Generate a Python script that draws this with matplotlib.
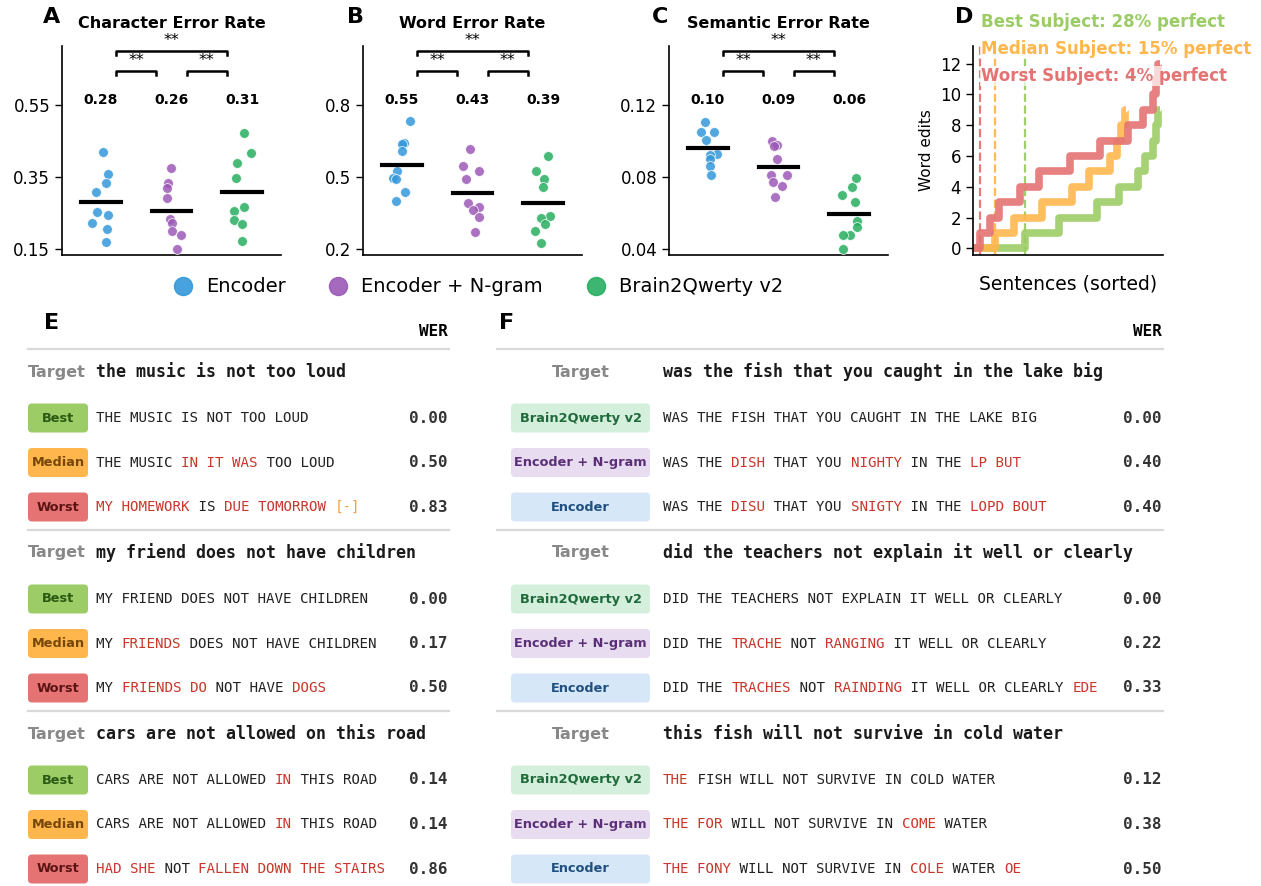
import re
import numpy as np
import matplotlib
matplotlib.use("Agg")
import matplotlib.pyplot as plt
from matplotlib.lines import Line2D
from matplotlib.patches import FancyBboxPatch

# ---- panel A-C data (per-subject error rates) ----
methods = ["Encoder", "Encoder + N-gram", "Brain2Qwerty v2"]
method_colors = ["#3498db", "#9b59b6", "#27ae60"]

cer_enc = [0.42, 0.357, 0.332, 0.309, 0.253, 0.244, 0.223, 0.205, 0.17]
cer_ngram = [0.374, 0.334, 0.319, 0.292, 0.233, 0.221, 0.20, 0.188, 0.149]
cer_b2q = [0.471, 0.416, 0.388, 0.348, 0.266, 0.256, 0.231, 0.219, 0.173]

wer_enc = [0.733, 0.640, 0.636, 0.610, 0.525, 0.495, 0.49, 0.435, 0.40]
wer_ngram = [0.615, 0.546, 0.524, 0.49, 0.393, 0.374, 0.363, 0.333, 0.27]
wer_b2q = [0.589, 0.526, 0.492, 0.458, 0.335, 0.330, 0.304, 0.275, 0.224]

ser_enc = [0.1106, 0.1052, 0.1048, 0.1006, 0.093, 0.092, 0.090, 0.0863, 0.0811]
ser_ngram = [0.1002, 0.0978, 0.0972, 0.0902, 0.0811, 0.0809, 0.0774, 0.075, 0.069]
ser_b2q = [0.0793, 0.0744, 0.0703, 0.0661, 0.0556, 0.0524, 0.0478, 0.0476, 0.0402]

metric_titles = ["Character Error Rate", "Word Error Rate", "Semantic Error Rate"]
metric_ticks = [[0.15, 0.35, 0.55], [0.2, 0.5, 0.8], [0.04, 0.08, 0.12]]
metric_ylims = [(0.133, 0.714), (0.174, 1.046), (0.0367, 0.1528)]

# ---- panel D data: number of sentences per word-edit level ----
subj_names = ["Best", "Median", "Worst"]
subj_colors = ["#9ccc65", "#ffb74d", "#e57373"]
best_counts = [28, 18, 20, 12, 10, 4, 4, 2, 1, 1]
median_counts = [12, 10, 15, 16, 9, 11, 4, 2, 2, 1]
worst_counts = [4, 5, 5, 11, 10, 17, 16, 15, 8, 5, 2, 1, 1]

# ---- panel E / F data ({..} = wrong word, <..> = missing) ----
e_targets = ["the music is not too loud",
             "my friend does not have children",
             "cars are not allowed on this road"]
e_hyps = [["THE MUSIC IS NOT TOO LOUD",
           "THE MUSIC {IN IT WAS} TOO LOUD",
           "{MY HOMEWORK} IS {DUE TOMORROW} <[-]>"],
          ["MY FRIEND DOES NOT HAVE CHILDREN",
           "MY {FRIENDS} DOES NOT HAVE CHILDREN",
           "MY {FRIENDS DO} NOT HAVE {DOGS}"],
          ["CARS ARE NOT ALLOWED {IN} THIS ROAD",
           "CARS ARE NOT ALLOWED {IN} THIS ROAD",
           "{HAD SHE} NOT {FALLEN DOWN THE STAIRS}"]]
e_wers = [[0.00, 0.50, 0.83], [0.00, 0.17, 0.50], [0.14, 0.14, 0.86]]

f_labels = ["Brain2Qwerty v2", "Encoder + N-gram", "Encoder"]
f_targets = ["was the fish that you caught in the lake big",
             "did the teachers not explain it well or clearly",
             "this fish will not survive in cold water"]
f_hyps = [["WAS THE FISH THAT YOU CAUGHT IN THE LAKE BIG",
           "WAS THE {DISH} THAT YOU {NIGHTY} IN THE {LP BUT}",
           "WAS THE {DISU} THAT YOU {SNIGTY} IN THE {LOPD BOUT}"],
          ["DID THE TEACHERS NOT EXPLAIN IT WELL OR CLEARLY",
           "DID THE {TRACHE} NOT {RANGING} IT WELL OR CLEARLY",
           "DID THE {TRACHES} NOT {RAINDING} IT WELL OR CLEARLY {EDE}"],
          ["{THE} FISH WILL NOT SURVIVE IN COLD WATER",
           "{THE FOR} WILL NOT SURVIVE IN {COME} WATER",
           "{THE FONY} WILL NOT SURVIVE IN {COLE} WATER {OE}"]]
f_wers = [[0.00, 0.40, 0.40], [0.00, 0.22, 0.33], [0.12, 0.38, 0.50]]

W, H = 1261, 886
fig = plt.figure(figsize=(W / 100, H / 100), dpi=100)
plt.rcParams["font.family"] = "DejaVu Sans"
MONO = "DejaVu Sans Mono"


def fx(px):
    return px / W


def fy(py):
    return 1 - py / H


# ---------------- A, B, C ----------------
all_data = [[cer_enc, cer_ngram, cer_b2q],
            [wer_enc, wer_ngram, wer_b2q],
            [ser_enc, ser_ngram, ser_b2q]]
lefts = [62, 363, 669]
letters = ["A", "B", "C"]
letter_x = [43, 347, 652]
rng = np.random.default_rng(7)

for k in range(3):
    ax = fig.add_axes([fx(lefts[k]), fy(255), 219 / W, 209 / H])
    for i, vals in enumerate(all_data[k]):
        jit = rng.uniform(-0.13, 0.13, len(vals))
        ax.scatter(i + jit, vals, s=50, color=method_colors[i], alpha=0.85,
                   edgecolor="white", linewidth=0.6, zorder=3)
        m = np.mean(vals)
        ax.plot([i - 0.28, i + 0.28], [m, m], color="black", lw=3, zorder=4)
        ax.text(i, 0.74, f"{m:.2f}", transform=ax.get_xaxis_transform(),
                ha="center", va="center", fontsize=10, fontweight="bold")
    tr = ax.get_xaxis_transform()
    for (a, b, yb) in [(0.22, 0.78, 0.880), (1.22, 1.78, 0.880), (0.22, 1.78, 0.976)]:
        ax.plot([a, a, b, b], [yb - 0.018, yb, yb, yb - 0.018], color="black",
                lw=1.8, transform=tr, clip_on=False)
        ax.text((a + b) / 2, yb + 0.05, "**", transform=tr, ha="center",
                va="center", fontsize=11.5)
    ax.set_xlim(-0.55, 2.55)
    ax.set_ylim(*metric_ylims[k])
    ax.set_yticks(metric_ticks[k])
    ax.set_yticklabels([f"{t:g}" for t in metric_ticks[k]])
    ax.set_xticks([])
    ax.tick_params(axis="y", labelsize=12, length=5, width=1)
    for s in ["top", "right"]:
        ax.spines[s].set_visible(False)
    for s in ["left", "bottom"]:
        ax.spines[s].set_linewidth(1.2)
    ax.set_title(metric_titles[k], fontsize=11.5, fontweight="bold", pad=13)
    fig.text(fx(letter_x[k]), fy(17), letters[k], fontsize=16,
             fontweight="bold", va="center", ha="left")

# legend
handles = [Line2D([], [], marker="o", ls="none", markersize=13,
                  color=c, alpha=0.9) for c in method_colors]
fig.legend(handles, methods, loc="center", bbox_to_anchor=(fx(478), fy(287)),
           ncol=3, frameon=False, fontsize=14, handletextpad=0.7,
           columnspacing=2.2, handlelength=1.0)

# ---------------- D ----------------
axd = fig.add_axes([fx(973), fy(255), 190 / W, 209 / H])
for name, counts, col in zip(subj_names, [best_counts, median_counts, worst_counts],
                             subj_colors):
    edits = np.repeat(np.arange(len(counts)), counts)
    n = len(edits)
    axd.plot(np.arange(n + 1), np.append(edits, edits[-1]), drawstyle="steps-post",
             color=col, lw=5.5, alpha=0.9, solid_capstyle="butt")
    axd.axvline(counts[0], color=col, ls="--", lw=1.6, alpha=0.95)
axd.set_xlim(0, 101.5)
axd.set_ylim(-0.43, 13.15)
axd.set_yticks(range(0, 13, 2))
axd.set_xticks([])
axd.tick_params(axis="y", labelsize=12, length=5, width=1)
for s in ["top", "right"]:
    axd.spines[s].set_visible(False)
for s in ["left", "bottom"]:
    axd.spines[s].set_linewidth(1.2)
axd.set_ylabel("Word edits", fontsize=11, labelpad=4)
axd.set_xlabel("Sentences (sorted)", fontsize=13.5, labelpad=14)
fig.text(fx(955), fy(17), "D", fontsize=16, fontweight="bold", va="center")
for j, (name, counts, col) in enumerate(zip(subj_names,
                                            [best_counts, median_counts, worst_counts],
                                            subj_colors)):
    pct = 100 * counts[0] / sum(counts)
    fig.text(fx(981), fy(22 + 27 * j), f"{name} Subject: {pct:.0f}% perfect",
             color=col, fontsize=12, fontweight="bold", va="center", ha="left",
             bbox=dict(facecolor="white", edgecolor="none", alpha=0.7, pad=0.5))

# ---------------- E / F tables ----------------
tab = fig.add_axes([0, 0, 1, 1])
tab.set_xlim(0, W)
tab.set_ylim(H, 0)
tab.axis("off")

ERR = "#c9372c"
seg_colors = {"ok": "#222222", "err": ERR, "gap": "#f5a04a"}


def draw_hyp(x0, y, s, size):
    cw = 0.60205 * size * 100 / 72
    x = x0
    for part in re.split(r"(\{[^}]*\}|<[^>]*>)", s):
        if not part:
            continue
        kind = "ok"
        if part.startswith("{"):
            kind, part = "err", part[1:-1]
        elif part.startswith("<"):
            kind, part = "gap", part[1:-1]
        tab.text(x, y, part, family=MONO, fontsize=size, color=seg_colors[kind],
                 va="center", ha="left")
        x += len(part) * cw


def badge(x0, x1, y, label, fc, tc):
    tab.add_patch(FancyBboxPatch((x0, y - 14.5), x1 - x0, 29,
                                 boxstyle="round,pad=0,rounding_size=4",
                                 fc=fc, ec="none"))
    tab.text((x0 + x1) / 2, y, label, ha="center", va="center", fontsize=9.3,
             fontweight="bold", color=tc)


e_fill = subj_colors
e_text = ["#2a5a12", "#764709", "#5a1414"]
f_fill = ["#d5efdd", "#e8dcf0", "#d6e7f7"]
f_text = ["#1f6a3a", "#5b2f78", "#1f4f80"]

for side in ["E", "F"]:
    if side == "E":
        xl, xr, tx, targets, hyps, wers = 28, 449, 96, e_targets, e_hyps, e_wers
        labels, fills, tcols = subj_names, e_fill, e_text
        fig.text(fx(44), fy(323), "E", fontsize=16, fontweight="bold", va="center")
    else:
        xl, xr, tx, targets, hyps, wers = 497, 1163, 663, f_targets, f_hyps, f_wers
        labels, fills, tcols = f_labels, f_fill, f_text
        fig.text(fx(499), fy(323), "F", fontsize=16, fontweight="bold", va="center")
    tab.text(xr - 1, 331, "WER", family=MONO, fontweight="bold", fontsize=11.5,
             ha="right", va="center")
    for b in range(3):
        y0 = 372 + 181 * b
        tab.plot([xl, xr], [349 + 181 * b] * 2, color="#d9d9d9", lw=1.6)
        if side == "E":
            tab.text(xl, y0, "Target", color="#888888", fontsize=11.5,
                     fontweight="bold", ha="left", va="center")
        else:
            tab.text(581, y0, "Target", color="#888888", fontsize=11.5,
                     fontweight="bold", ha="center", va="center")
        tab.text(tx, y0, targets[b], family=MONO, fontweight="bold", fontsize=12,
                 ha="left", va="center", color="#1a1a1a")
        for r in range(3):
            yr = 418 + 181 * b + 44.5 * r
            if side == "E":
                badge(28, 88, yr, labels[r], fills[r], tcols[r])
            else:
                badge(511, 650, yr, labels[r], fills[r], tcols[r])
            draw_hyp(tx, yr, hyps[b][r], 10.2)
            tab.text(xr - 1, yr, f"{wers[b][r]:.2f}", family=MONO,
                     fontweight="bold", fontsize=11.5, ha="right", va="center",
                     color="#333333")

fig.savefig("out.png", dpi=100)
